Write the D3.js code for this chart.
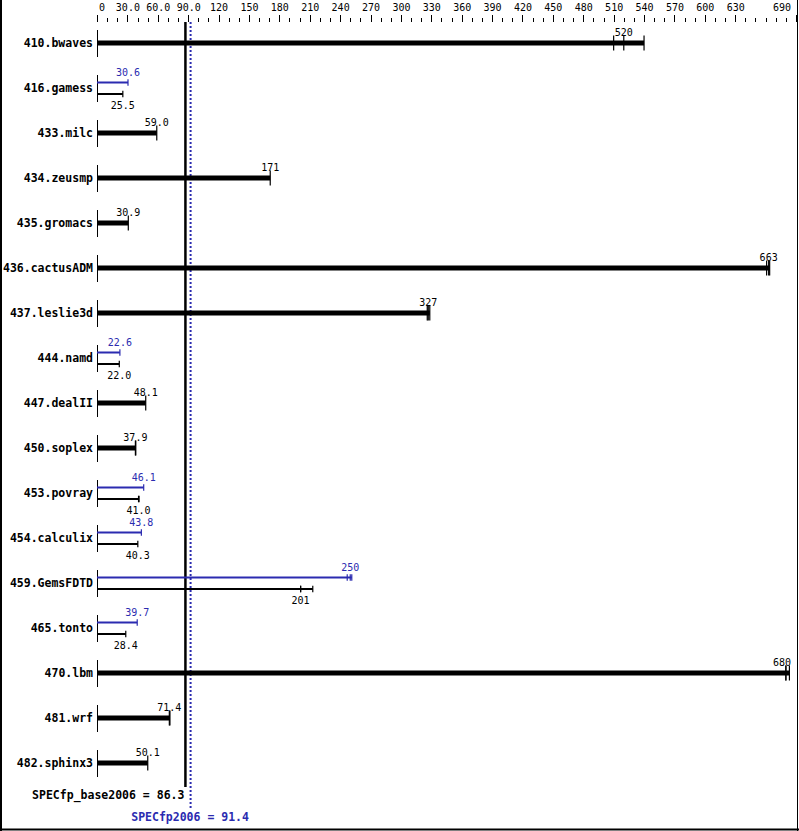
<!DOCTYPE html>
<html>
<head>
<meta charset="utf-8">
<script src="https://cdn.jsdelivr.net/npm/d3@7"></script>
<style>
  html, body { margin: 0; padding: 0; background: #fff; }
  svg { display: block; }
</style>
</head>
<body>
<svg id="chart" width="799" height="831"></svg>
<script>
// ---- data ----
const benchmarks = ["410.bwaves","416.gamess","433.milc","434.zeusmp","435.gromacs","436.cactusADM","437.leslie3d","444.namd","447.dealII","450.soplex","453.povray","454.calculix","459.GemsFDTD","465.tonto","470.lbm","481.wrf","482.sphinx3"];
const baseRatio = [520, 25.5, 59.0, 171, 30.9, 663, 327, 22.0, 48.1, 37.9, 41.0, 40.3, 201, 28.4, 680, 71.4, 50.1];
const peakRatio = [null, 30.6, null, null, null, null, null, 22.6, null, null, 46.1, 43.8, 250, 39.7, null, null, null];
const baseRuns = [[510, 520, 540], [25.5], [59.0], [171], [30.9], [661, 663, 664], [326, 327, 328.5], [22.0], [48.1], [37.9, 38.3], [41.0, 41.5], [40.3], [201, 201, 213], [28.4], [680, 680, 683.5], [71.4, 72.0], [50.1]];
const peakRuns = [null, [30.6], null, null, null, null, null, [22.6], null, null, [46.1], [43.8], [247, 250, 251.5], [39.7], null, null, null];
const tickValues = [0, 30, 60, 90, 120, 150, 180, 210, 240, 270, 300, 330, 360, 390, 420, 450, 480, 510, 540, 570, 600, 630, 690];
const tickLabels = ["0", "30.0", "60.0", "90.0", "120", "150", "180", "210", "240", "270", "300", "330", "360", "390", "420", "450", "480", "510", "540", "570", "600", "630", "690"];
const baseMean = 86.3, peakMean = 91.4;
const baseMeanLabel = "SPECfp_base2006 = 86.3";
const peakMeanLabel = "SPECfp2006 = 91.4";

// ---- setup ----
const svg = d3.select("#chart");
const BLUE = "#2b2bb0";
const MONO = "'DejaVu Sans Mono', 'Liberation Mono', monospace";
const fmt = d3.format(".3r");

const x = d3.scaleLinear().domain([0, 690]).range([97, 796]);
const y = d3.scalePoint().domain(benchmarks).range([43, 763]);

// frame
svg.append("line").attr("x1", 1).attr("x2", 1).attr("y1", 0).attr("y2", 831).attr("stroke", "#000").attr("stroke-width", 2);
svg.append("line").attr("x1", 0).attr("x2", 799).attr("y1", 829.5).attr("y2", 829.5).attr("stroke", "#000").attr("stroke-width", 2);
svg.append("line").attr("x1", 797.5).attr("x2", 797.5).attr("y1", 0).attr("y2", 831).attr("stroke", "#000").attr("stroke-width", 1);

// top axis ticks
const minor = d3.range(0, 691, 10).filter(v => !tickValues.includes(v));
const ax = svg.append("g");
ax.selectAll("line.minor").data(minor).join("line")
  .attr("x1", d => Math.round(x(d)) + 0.5).attr("x2", d => Math.round(x(d)) + 0.5)
  .attr("y1", 18).attr("y2", 22).attr("stroke", "#000");
ax.selectAll("line.major").data(tickValues).join("line")
  .attr("x1", d => Math.round(x(d)) + 0.5).attr("x2", d => Math.round(x(d)) + 0.5)
  .attr("y1", 15).attr("y2", 22).attr("stroke", "#000");
ax.selectAll("text").data(tickValues).join("text")
  .attr("x", (d, i) => i === 0 ? x(d) + 2 : (i === tickValues.length - 1 ? x(d) - 5 : x(d) + 0.5))
  .attr("y", 10.5)
  .attr("text-anchor", (d, i) => i === 0 ? "start" : (i === tickValues.length - 1 ? "end" : "middle"))
  .attr("font-family", MONO).attr("font-size", "10px").attr("fill", "#000")
  .text((d, i) => tickLabels[i]);

// mean lines
svg.append("line").attr("x1", x(baseMean) + 1).attr("x2", x(baseMean) + 1).attr("y1", 22).attr("y2", 787)
  .attr("stroke", "#000").attr("stroke-width", 2.5);
svg.append("line").attr("x1", x(peakMean) + 1).attr("x2", x(peakMean) + 1).attr("y1", 22).attr("y2", 808)
  .attr("stroke", BLUE).attr("stroke-width", 2).attr("stroke-dasharray", "2,2");
svg.append("text").attr("x", x(baseMean)).attr("y", 799).attr("text-anchor", "end")
  .attr("font-family", MONO).attr("font-weight", "bold").attr("font-size", "11.5px").attr("fill", "#000")
  .text(baseMeanLabel);
svg.append("text").attr("x", x(peakMean) + 0.5).attr("y", 821).attr("text-anchor", "middle")
  .attr("font-family", MONO).attr("font-weight", "bold").attr("font-size", "11.5px").attr("fill", BLUE)
  .text(peakMeanLabel);

// rows
const rows = svg.append("g").selectAll("g").data(benchmarks).join("g");
rows.each(function(name, i) {
  const g = d3.select(this);
  const cy = y(name);
  g.append("text").attr("x", 93).attr("y", cy + 4).attr("text-anchor", "end")
    .attr("font-family", MONO).attr("font-weight", "bold").attr("font-size", "11.5px").attr("fill", "#000")
    .text(name);
  g.append("line").attr("x1", x(0) + 0.5).attr("x2", x(0) + 0.5).attr("y1", cy - 13).attr("y2", cy + 14)
    .attr("stroke", "#000");

  const drawBar = (runs, value, yc, thick, color, half, labelY) => {
    const xmax = x(d3.max(runs));
    g.append("rect").attr("x", x(0)).attr("y", yc - thick / 2).attr("width", xmax - x(0)).attr("height", thick).attr("fill", color);
    runs.forEach(r => {
      g.append("line").attr("x1", x(r)).attr("x2", x(r)).attr("y1", yc - half).attr("y2", yc + half)
        .attr("stroke", color).attr("stroke-width", 1.2);
    });
    g.append("text").attr("x", Math.min(x(value), 782)).attr("y", labelY).attr("text-anchor", "middle")
      .attr("font-family", MONO).attr("font-size", "10px").attr("fill", color)
      .text(fmt(value));
  };

  if (peakRatio[i] == null) {
    drawBar(baseRuns[i], baseRatio[i], cy, 5, "#000", 7.5, cy - 7.5);
  } else {
    drawBar(peakRuns[i], peakRatio[i], cy - 5.5, 2, BLUE, 3.2, cy - 12);
    drawBar(baseRuns[i], baseRatio[i], cy + 6, 2, "#000", 3.2, cy + 21);
  }
});
</script>
</body>
</html>
